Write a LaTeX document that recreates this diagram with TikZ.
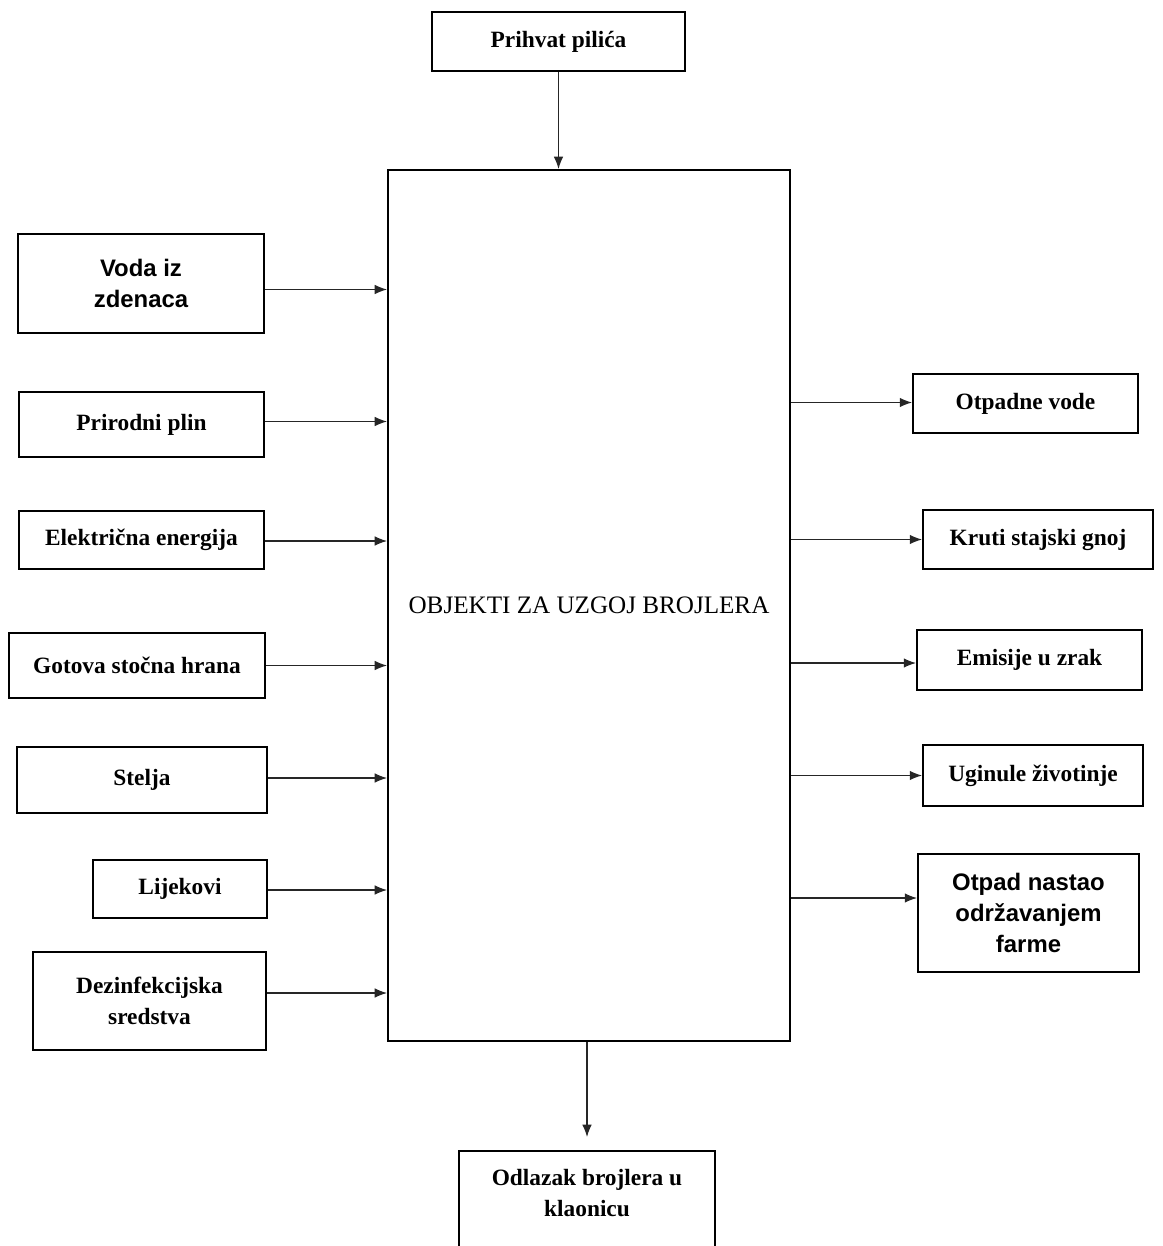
\documentclass[tikz,border=0pt]{standalone}
\usepackage{fontspec}
\setmainfont{Liberation Serif}
\setsansfont{Liberation Sans}
\usetikzlibrary{arrows.meta}
\tikzset{
    okvir/.style 2 args={draw, line width=1.1pt, align=center, inner sep=2pt,
        minimum width=#1*0.02cm, minimum height=#2*0.02cm,
        font=\fontsize{13.3}{17.5}\selectfont\bfseries},
    sans/.style={font=\fontsize{13.6}{17.5}\selectfont\sffamily\bfseries},
    strelica/.style={line width=0.75pt, black!85, -{Latex[length=7pt,width=5.5pt]}}
}
\begin{document}
\begin{tikzpicture}[x=0.02cm, y=-0.02cm]
    \path[use as bounding box] (0,0) rectangle (1162,1246);
    \clip (0,0) rectangle (1162,1246);
    % glavni objekt
    \node[okvir={402}{871}, font=\fontsize{14.3}{17}\selectfont] (glavni) at (589,605.5) {OBJEKTI ZA UZGOJ BROJLERA};
    \node[okvir={253}{59}] (prihvat) at (558.5,41.5) {Prihvat pilića};
    \node[okvir={256}{59}, anchor=north, text depth=1.05cm, inner ysep=10.5pt] (odlazak) at (587,1150) {Odlazak brojlera u\\ klaonicu};
    % ulazi
    \node[okvir={246}{99}, sans] (voda) at (141,283.5) {Voda iz\\ zdenaca};
    \node[okvir={245}{65}] (plin) at (141.5,424.5) {Prirodni plin};
    \node[okvir={245}{58}] (struja) at (141.5,540) {Električna energija};
    \node[okvir={256}{65}] (hrana) at (137,665.5) {Gotova stočna hrana};
    \node[okvir={250}{66}] (stelja) at (142,780) {Stelja};
    \node[okvir={174}{58}] (lijekovi) at (180,889) {Lijekovi};
    \node[okvir={233}{98}] (dezinf) at (149.5,1001) {Dezinfekcijska\\ sredstva};
    % izlazi
    \node[okvir={225}{59}] (otpvode) at (1025.5,403.5) {Otpadne vode};
    \node[okvir={230}{59}] (gnoj) at (1038,539.5) {Kruti stajski gnoj};
    \node[okvir={225}{60}] (emisije) at (1029.5,660) {Emisije u zrak};
    \node[okvir={220}{61}] (uginule) at (1033,775.5) {Uginule životinje};
    \node[okvir={221}{118}, sans] (otpad) at (1028.5,913) {Otpad nastao\\ održavanjem\\ farme};

    \draw[strelica] (prihvat) -- (prihvat |- glavni.north);
    \draw[strelica] (glavni.south -| odlazak) -- ([yshift=0.26cm]odlazak.north);
    \foreach \n/\s in {voda/-6,plin/3,struja/-1,hrana/0,stelja/2,lijekovi/-1,dezinf/8}
        \draw[strelica] ([yshift=\s*0.02cm]\n.east) -- ([yshift=\s*0.02cm]\n.east -| glavni.west);
    \foreach \n/\s in {otpvode/1,gnoj/0,emisije/-3,uginule/0,otpad/15}
        \draw[strelica] ([yshift=\s*0.02cm]\n.west -| glavni.east) -- ([yshift=\s*0.02cm]\n.west);
\end{tikzpicture}
\end{document}
